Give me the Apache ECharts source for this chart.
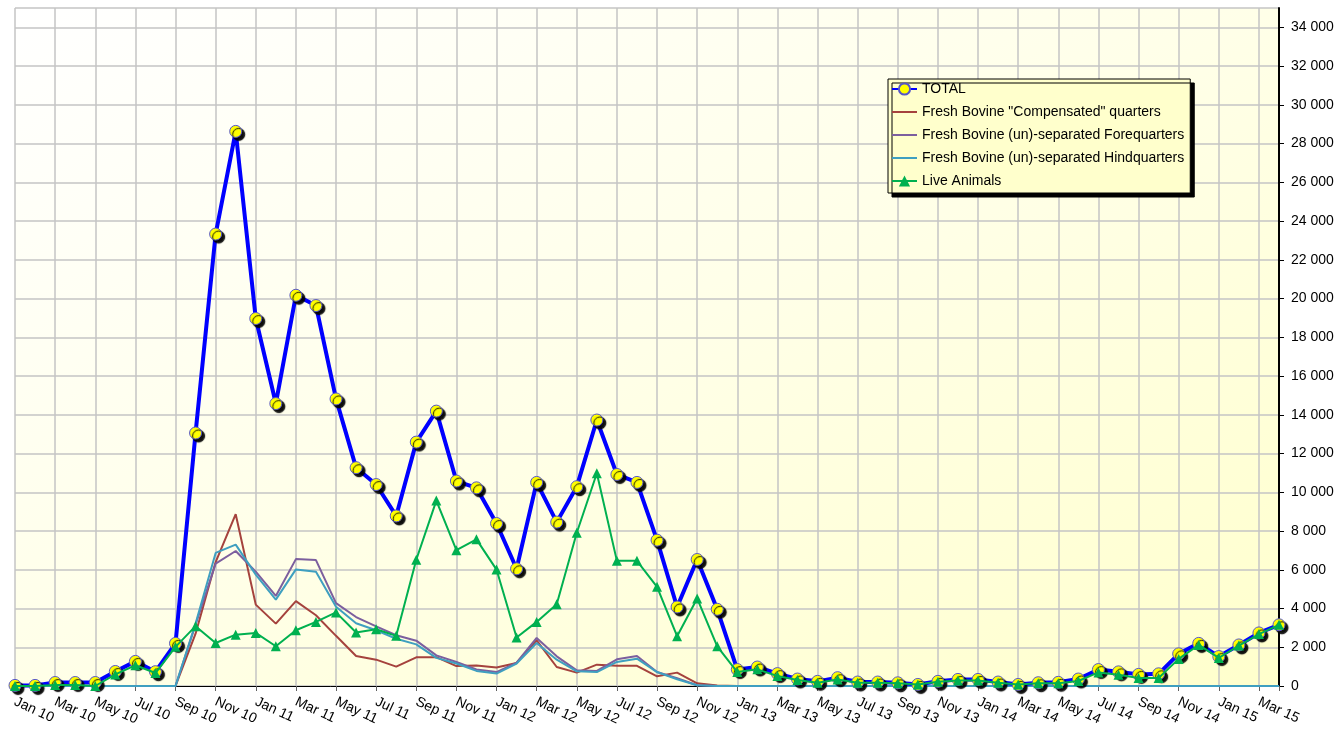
<!DOCTYPE html>
<html>
<head>
<meta charset="utf-8">
<title>Bovine trade chart</title>
<script src="https://cdn.jsdelivr.net/npm/echarts@6/dist/echarts.min.js"></script>
<style>
  html, body { margin: 0; padding: 0; background: #ffffff; }
  #chart { width: 1340px; height: 731px; }
</style>
</head>
<body>
<div id="chart"></div>
<script>
// months Jan 10 .. Apr 15 (labels shown every 2nd month)
const months = [
  'Jan 10', 'Feb 10', 'Mar 10', 'Apr 10', 'May 10', 'Jun 10', 'Jul 10', 'Aug 10', 'Sep 10', 'Oct 10', 'Nov 10', 'Dec 10',
  'Jan 11', 'Feb 11', 'Mar 11', 'Apr 11', 'May 11', 'Jun 11', 'Jul 11', 'Aug 11', 'Sep 11', 'Oct 11', 'Nov 11', 'Dec 11',
  'Jan 12', 'Feb 12', 'Mar 12', 'Apr 12', 'May 12', 'Jun 12', 'Jul 12', 'Aug 12', 'Sep 12', 'Oct 12', 'Nov 12', 'Dec 12',
  'Jan 13', 'Feb 13', 'Mar 13', 'Apr 13', 'May 13', 'Jun 13', 'Jul 13', 'Aug 13', 'Sep 13', 'Oct 13', 'Nov 13', 'Dec 13',
  'Jan 14', 'Feb 14', 'Mar 14', 'Apr 14', 'May 14', 'Jun 14', 'Jul 14', 'Aug 14', 'Sep 14', 'Oct 14', 'Nov 14', 'Dec 14',
  'Jan 15', 'Feb 15', 'Mar 15', 'Apr 15',
]

const total = [
  30, 30, 180, 180, 180, 750, 1270, 740, 2200, 13060, 23330, 28630,
  18970, 14580, 20170, 19640, 14820, 11270, 10400, 8780, 12590, 14190, 10580, 10230,
  8390, 6050, 10510, 8460, 10290, 13730, 10920, 10510, 7530, 4080, 6530, 3960,
  850, 980, 640, 360, 240, 430, 205, 205, 165, 80, 240, 340,
  340, 205, 80, 170, 190, 360, 850, 730, 600, 630, 1660, 2200,
  1520, 2120, 2740, 3160,
]

const compensated = [
  0, 0, 0, 0, 0, 0, 0, 0, 0, 2700, 6400, 8870,
  4200, 3220, 4380, 3650, 2590, 1550, 1360, 1000, 1480, 1490, 1030, 1060,
  950, 1190, 2360, 980, 690, 1100, 1040, 1040, 500, 690, 140, 30,
  0, 0, 0, 0, 0, 0, 0, 0, 0, 0, 0, 0,
  0, 0, 0, 0, 0, 0, 0, 0, 0, 0, 0, 0,
  0, 0, 0, 0,
]

const forequarters = [
  0, 0, 0, 0, 0, 0, 0, 0, 0, 3170, 6320, 6970,
  5900, 4650, 6550, 6500, 4280, 3560, 3080, 2620, 2340, 1580, 1240, 850,
  720, 1210, 2480, 1530, 810, 780, 1380, 1550, 720, 400, 40, 0,
  0, 0, 0, 0, 0, 0, 0, 0, 0, 0, 0, 0,
  0, 0, 0, 0, 0, 0, 0, 0, 0, 0, 0, 0,
  0, 0, 0, 0,
]

const hindquarters = [
  0, 0, 0, 0, 0, 0, 0, 0, 0, 3220, 6870, 7300,
  5750, 4460, 6020, 5900, 4090, 3240, 2880, 2440, 2150, 1450, 1160, 780,
  640, 1160, 2220, 1360, 760, 720, 1240, 1410, 720, 350, 40, 0,
  0, 0, 0, 0, 0, 0, 0, 0, 0, 0, 0, 0,
  0, 0, 0, 0, 0, 0, 0, 0, 0, 0, 0, 0,
  0, 0, 0, 0,
]

const liveAnimals = [
  0, 0, 50, 50, 0, 600, 1070, 670, 2020, 3090, 2220, 2650,
  2740, 2050, 2880, 3310, 3800, 2760, 2930, 2590, 6520, 9570, 7010, 7570,
  6010, 2500, 3310, 4220, 7910, 10980, 6460, 6460, 5120, 2570, 4520, 2050,
  720, 860, 520, 310, 170, 340, 170, 170, 140, 80, 220, 290,
  290, 170, 80, 140, 140, 260, 700, 580, 410, 410, 1400, 2120,
  1450, 2090, 2680, 3160,
]

const FONT = 'Liberation Sans, Arial, sans-serif'
const LINE_ICON = 'path://M0,0L25,0L25,2L0,2Z' // plain line legend icon

// "34 000" style thousands separator
function fmtThousands(v) {
  return String(v).replace(/\B(?=(\d{3})+(?!\d))/g, ' ')
}

function thinLine(name, data, color) {
  return {
    name,
    type: 'line',
    data,
    symbol: 'none',
    lineStyle: { color, width: 2 },
    itemStyle: { color },
    z: 2,
  }
}

const chart = echarts.init(document.getElementById('chart'), null, { renderer: 'canvas' })

chart.setOption({
  animation: false,
  backgroundColor: '#ffffff',
  grid: {
    left: 15,
    right: 61,
    top: 8,
    bottom: 45,
    show: true,
    borderWidth: 0,
    // diagonal wash: white top-left -> pale yellow bottom-right
    backgroundColor: new echarts.graphic.LinearGradient(15, 8, 580, 1061, [
      { offset: 0, color: '#ffffff' },
      { offset: 0.5, color: '#ffffe8' },
      { offset: 1, color: '#ffffcc' },
    ], true),
  },
  legend: {
    orient: 'vertical',
    left: 888,
    top: 79,
    itemWidth: 25,
    itemHeight: 14,
    itemGap: 9,
    padding: [3, 6, 5, 3],
    backgroundColor: '#ffffcc',
    borderColor: '#000000',
    borderWidth: 1,
    shadowColor: '#000000',
    shadowBlur: 0,
    shadowOffsetX: 4,
    shadowOffsetY: 4,
    itemStyle: { shadowColor: 'transparent', shadowOffsetX: 0, shadowOffsetY: 0 },
    textStyle: { fontFamily: FONT, fontSize: 14, color: '#000000' },
    data: [
      { name: 'TOTAL' },
      { name: 'Fresh Bovine "Compensated" quarters', icon: LINE_ICON },
      { name: 'Fresh Bovine (un)-separated Forequarters', icon: LINE_ICON },
      { name: 'Fresh Bovine (un)-separated Hindquarters', icon: LINE_ICON },
      { name: 'Live Animals' },
    ],
  },
  xAxis: [
    {
      type: 'category',
      data: months,
      boundaryGap: false,
      axisLine: { lineStyle: { color: '#000000', width: 1 } },
      axisTick: { show: false },
      axisLabel: {
        interval: 1,
        rotate: -25,
        margin: 15,
        fontFamily: FONT,
        fontSize: 14,
        color: '#000000',
      },
      splitLine: { show: false },
    },
    {
      // helper axis (month index) only for the 2-month grid lines and ticks
      type: 'value',
      position: 'bottom',
      min: 0,
      max: months.length - 1,
      interval: 2,
      axisLine: { show: false },
      axisLabel: { show: false },
      axisTick: { show: true, length: 5, lineStyle: { color: '#606060' } },
      splitLine: { show: true, lineStyle: { color: '#c4c4c4', width: 1.5 } },
    },
  ],
  yAxis: {
    type: 'value',
    position: 'right',
    min: 0,
    max: 35000,
    interval: 2000,
    axisLine: { show: true, onZero: false, lineStyle: { color: '#000000', width: 2 } },
    axisTick: { show: true, length: 5, lineStyle: { color: '#000000' } },
    axisLabel: {
      margin: 12,
      showMaxLabel: false,
      fontFamily: FONT,
      fontSize: 14,
      color: '#000000',
      formatter: (v) => (v > 34000 ? '' : fmtThousands(v)),
    },
    splitLine: { show: true, lineStyle: { color: '#c4c4c4', width: 1.5 } },
  },
  series: [
    {
      name: 'TOTAL',
      type: 'line',
      data: total,
      symbol: 'circle',
      symbolSize: 12,
      showAllSymbol: true,
      lineStyle: { color: '#0000ff', width: 4 },
      itemStyle: {
        color: '#ffff00',
        borderColor: '#5656c8',
        borderWidth: 1,
        shadowColor: 'rgba(0,0,0,0.95)',
        shadowBlur: 1,
        shadowOffsetX: 3,
        shadowOffsetY: 3,
      },
      z: 3,
    },
    thinLine('Fresh Bovine "Compensated" quarters', compensated, '#a5423d'),
    thinLine('Fresh Bovine (un)-separated Forequarters', forequarters, '#7c5f9e'),
    thinLine('Fresh Bovine (un)-separated Hindquarters', hindquarters, '#3f9fc0'),
    {
      name: 'Live Animals',
      type: 'line',
      data: liveAnimals,
      symbol: 'triangle',
      symbolSize: 10,
      showAllSymbol: true,
      lineStyle: { color: '#00b050', width: 2 },
      itemStyle: { color: '#00b050' },
      z: 4,
    },
  ],
})
</script>
</body>
</html>
